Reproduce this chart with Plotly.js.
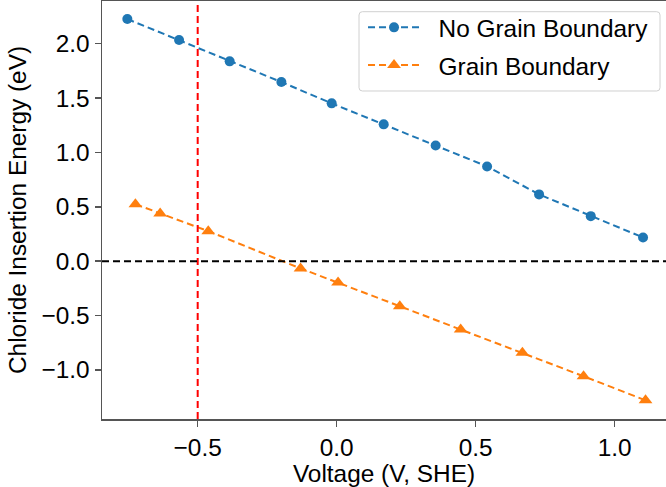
<!DOCTYPE html>
<html>
<head>
<meta charset="utf-8">
<script src="https://cdn.plot.ly/plotly-3.0.1.min.js"></script>
<style>html,body{margin:0;padding:0;background:#fff;}#chart{width:666px;height:487px;}</style>
</head>
<body>
<div id="chart"></div>
<script>
const noGbVoltage = [-0.753, -0.567, -0.385, -0.199, -0.018, 0.169, 0.356, 0.541, 0.728, 0.914, 1.102];
const noGbEnergy  = [2.226, 2.033, 1.837, 1.647, 1.451, 1.258, 1.064, 0.871, 0.614, 0.414, 0.218];
const gbVoltage = [-0.724, -0.635, -0.462, -0.130, 0.005, 0.227, 0.446, 0.668, 0.888, 1.111];
const gbEnergy  = [0.524, 0.439, 0.276, -0.067, -0.196, -0.414, -0.629, -0.843, -1.058, -1.279];
const seriesNames = ["No Grain Boundary", "Grain Boundary"];
const refVoltage = -0.5;
const refEnergy = 0.0;
const xTicks = [-0.5, 0.0, 0.5, 1.0];
const yTicks = [-1.0, -0.5, 0.0, 0.5, 1.0, 1.5, 2.0];

const FONT = "Liberation Sans, Arial, sans-serif";
const FS = 24.4;
const PAD = "\u00a0\u00a0";

const traces = [
  {x: noGbVoltage, y: noGbEnergy, name: PAD + seriesNames[0], legendgroup: "a", mode: "lines+markers",
   line: {color: "#1f77b4", width: 2, dash: "7px,4px"},
   marker: {symbol: "circle", size: 10, color: "#1f77b4"}},
  {x: gbVoltage, y: gbEnergy, name: PAD + seriesNames[1], legendgroup: "b", mode: "lines+markers",
   line: {color: "#ff7f0e", width: 2, dash: "7px,4px"},
   marker: {symbol: "triangle-up", size: 12, color: "#ff7f0e"}}
];

// legend frame (styling only), paper coordinates
const L = 0.4557, R = 0.9894, T = 0.9744, B = 0.7847, rx = 0.006, ry = 0.008;
const framePath = `M${L+rx},${T} L${R-rx},${T} Q${R},${T} ${R},${T-ry} L${R},${B+ry} Q${R},${B} ${R-rx},${B} ` +
                  `L${L+rx},${B} Q${L},${B} ${L},${B+ry} L${L},${T-ry} Q${L},${T} ${L+rx},${T} Z`;

const layout = {
  width: 666, height: 487,
  margin: {l: 102, r: 0, t: 1, b: 68, pad: 0},
  paper_bgcolor: "#fff", plot_bgcolor: "#fff",
  font: {family: FONT, size: FS, color: "#000"},
  showlegend: true,
  legend: {x: 0.4628, y: 0.9904, xanchor: "left", yanchor: "top",
           bgcolor: "rgba(255,255,255,0)", borderwidth: 0,
           font: {family: FONT, size: FS, color: "#000"}, itemwidth: 52, tracegroupgap: 3},
  xaxis: {range: [-0.8442, 1.1846], tickvals: xTicks, ticktext: xTicks.map(v => v.toFixed(1).replace("-", "\u2212")),
          showgrid: false, zeroline: false, showline: true, linecolor: "#555", linewidth: 1.5,
          mirror: true, ticks: "outside", ticklen: 6, tickwidth: 1.5, tickcolor: "#555",
          tickfont: {family: FONT, size: FS, color: "#000"},
          title: {text: "Voltage (V, SHE)", font: {family: FONT, size: FS, color: "#000"}, standoff: 6}},
  yaxis: {range: [-1.451, 2.392], tickvals: yTicks, ticktext: yTicks.map(v => v.toFixed(1).replace("-", "\u2212")),
          showgrid: false, zeroline: false, showline: true, linecolor: "#555", linewidth: 1.5,
          ticks: "outside", ticklen: 6, tickwidth: 1.5, tickcolor: "#555",
          tickfont: {family: FONT, size: FS, color: "#000"},
          title: {text: "Chloride Insertion Energy (eV)", font: {family: FONT, size: FS, color: "#000"}, standoff: 8}},
  shapes: [
    {type: "line", xref: "x", yref: "paper", x0: refVoltage, x1: refVoltage, y0: 0, y1: 1,
     line: {color: "#ff0000", width: 2, dash: "7px,4px"}},
    {type: "line", xref: "paper", yref: "y", x0: 0, x1: 1, y0: refEnergy, y1: refEnergy,
     line: {color: "#000", width: 2, dash: "7px,4px"}},
    {type: "path", xref: "paper", yref: "paper", path: framePath, layer: "above",
     fillcolor: "rgba(255,255,255,0.8)", line: {color: "#d0d0d0", width: 1}}
  ]
};

Plotly.newPlot("chart", traces, layout, {displayModeBar: false, staticPlot: true});
</script>
</body>
</html>
